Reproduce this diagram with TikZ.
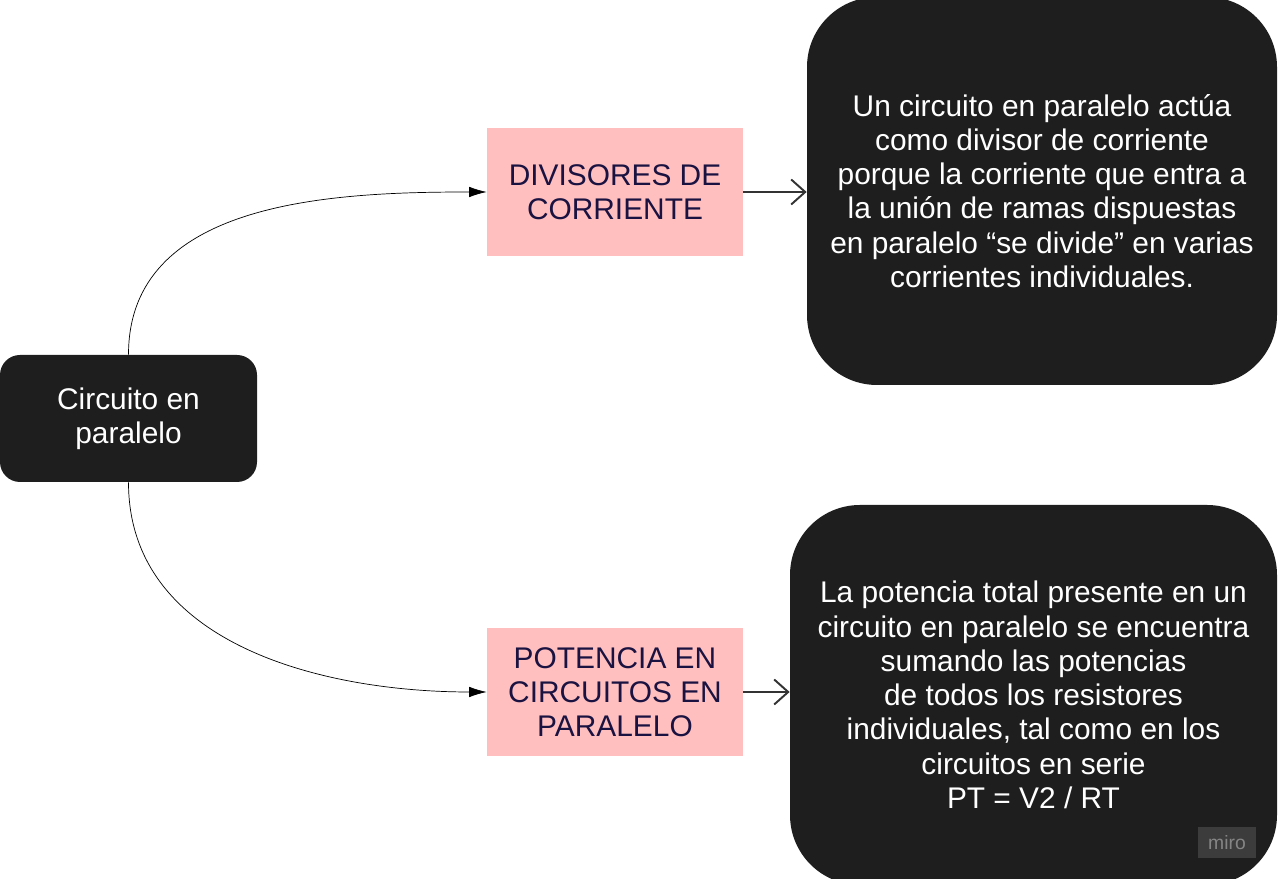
\documentclass[tikz,border=0pt]{standalone}
\usepackage{fontspec}
\setmainfont{Liberation Sans}
\usetikzlibrary{arrows.meta}

\definecolor{boxblack}{HTML}{1E1E1E}
\definecolor{boxpink}{HTML}{FFBFBF}
\definecolor{inkblue}{HTML}{1A1240}
\definecolor{markgray}{HTML}{3C3C3C}
\definecolor{marktext}{HTML}{858585}

\begin{document}
\begin{tikzpicture}[thin, font=\fontsize{17}{19.5}\selectfont,
  darkbox/.style={fill=boxblack, text=white, align=center, inner sep=0pt},
  pinkbox/.style={fill=boxpink, text=inkblue, align=center, inner sep=0pt,
    minimum width=5.12cm, minimum height=2.56cm},
  curvy/.style={-{Latex[length=3.5mm,width=2.1mm]}},
  plain/.style={-{Straight Barb[length=2.8mm,width=5mm]}, line width=1.1pt, draw=black!80}]
  \useasboundingbox (0,0) rectangle (25.56,17.58);
  \node[darkbox, minimum width=5.14cm, minimum height=2.54cm, rounded corners=0.4cm]
    (circ) at (2.57,9.21) {Circuito en\\paralelo};
  \node[pinkbox] (div) at (12.3,13.74) {DIVISORES DE\\CORRIENTE};
  \node[pinkbox] (pot) at (12.3,3.74) {POTENCIA EN\\CIRCUITOS EN\\PARALELO};
  \node[darkbox, minimum width=9.4cm, minimum height=7.76cm, rounded corners=1.4cm]
    (divtxt) at (20.84,13.76) {Un circuito en paralelo actúa\\como divisor de corriente\\
    porque la corriente que entra a\\la unión de ramas dispuestas\\
    en paralelo “se divide” en varias\\corrientes individuales.};
  \node[darkbox, minimum width=9.74cm, minimum height=7.6cm, rounded corners=1.4cm]
    (pottxt) at (20.67,3.68) {La potencia total presente en un\\circuito en paralelo se encuentra\\
    sumando las potencias\\de todos los resistores\\individuales, tal como en los\\
    circuitos en serie\\PT = V2 / RT};
  \node[fill=markgray, text=marktext, font=\fontsize{11}{12}\selectfont,
    minimum width=1.16cm, minimum height=0.62cm, inner sep=0pt] (miro) at (24.54,0.72) {miro};
  \path (circ.north) edge[curvy, out=90, in=180] (div.west)
        (circ.south) edge[curvy, out=-90, in=180] (pot.west)
        (div.east) edge[plain] (divtxt.west |- div.east)
        (pot.east) edge[plain] (pottxt.west |- pot.east);
\end{tikzpicture}
\end{document}
